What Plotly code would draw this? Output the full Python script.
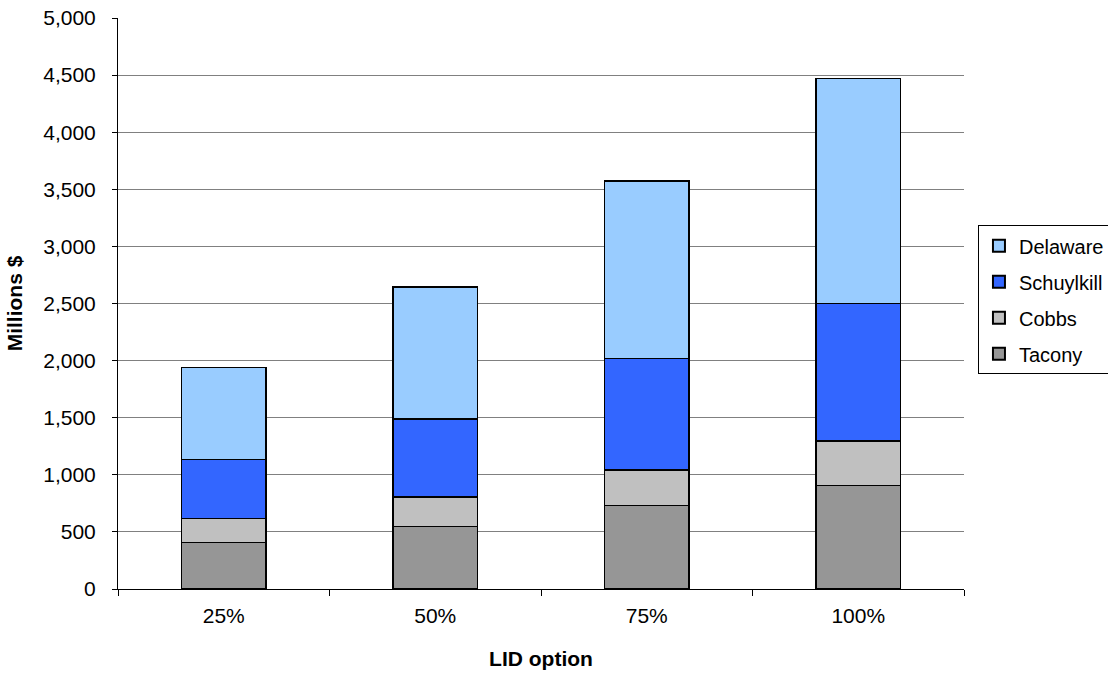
import plotly.graph_objects as go

categories = ["25%", "50%", "75%", "100%"]
tacony = [410, 550, 730, 905]
cobbs = [210, 255, 313, 390]
schuylkill = [512, 683, 973, 1205]
delaware = [808, 1157, 1558, 1970]

series = [
    ("Tacony", tacony, "#969696", 4),
    ("Cobbs", cobbs, "#C0C0C0", 3),
    ("Schuylkill", schuylkill, "#3366FF", 2),
    ("Delaware", delaware, "#99CCFF", 1),
]

fig = go.Figure()
for name, vals, color, rank in series:
    fig.add_trace(go.Bar(
        x=categories, y=vals, name=name, legendgroup=name, legendrank=rank,
        marker=dict(color=color, line=dict(color="black", width=1.3)),
    ))

font_family = "Liberation Sans, Arial, sans-serif"
fig.update_layout(
    barmode="stack",
    bargap=0.6,
    width=1108, height=677,
    margin=dict(l=118, r=144, t=18, b=88, autoexpand=False),
    paper_bgcolor="white",
    plot_bgcolor="white",
    font=dict(family=font_family, size=21, color="black"),
    showlegend=True,
    legend=dict(
        traceorder="grouped",
        tracegroupgap=7,
        x=1.0165, xanchor="left",
        y=0.637, yanchor="top",
        bordercolor="black", borderwidth=1,
        bgcolor="white",
        font=dict(family=font_family, size=20, color="black"),
        itemsizing="constant",
        itemwidth=30,
    ),
    xaxis=dict(
        title=dict(text="<b>LID option</b>", font=dict(size=21), standoff=25),
        showline=True, linecolor="black", linewidth=1,
        ticks="outside", ticklen=6, tickcolor="black",
        tickson="boundaries",
        showgrid=False,
        tickfont=dict(size=21),
        ticklabelstandoff=8,
    ),
    yaxis=dict(
        title=dict(text="<b>Millions $</b>", font=dict(size=21), standoff=14),
        range=[0, 5000],
        dtick=500,
        tickformat=",",
        showline=True, linecolor="black", linewidth=1,
        ticks="outside", ticklen=5, tickcolor="black",
        showgrid=True, gridcolor="#808080", gridwidth=1,
        zeroline=False,
        tickfont=dict(size=21),
        ticklabelstandoff=12,
    ),
)

fig.write_html(
    "out.html",
    config={"displayModeBar": False},
    post_script="document.body.style.margin='0';document.body.style.padding='0';",
)
